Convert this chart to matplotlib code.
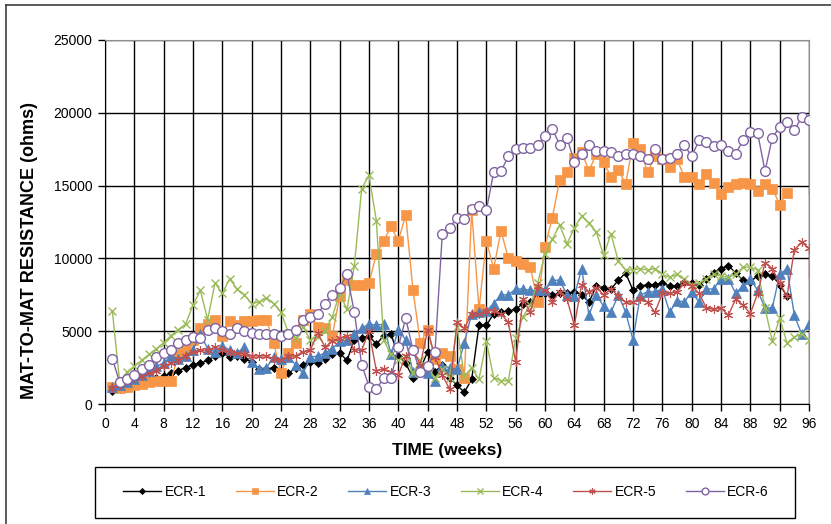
import matplotlib
matplotlib.use("Agg")
import matplotlib.pyplot as plt
from matplotlib.lines import Line2D
from matplotlib.patches import Rectangle
import numpy as np

plt.rcParams['font.family'] = ['Liberation Sans', 'DejaVu Sans']

series_names = ["ECR-1", "ECR-2", "ECR-3", "ECR-4", "ECR-5", "ECR-6"]

ecr1 = [900, 1000, 1100, 1300, 1500, 1600, 1800, 1900, 2100, 2300, 2500, 2700, 2800, 3000, 3300, 3500,
        3200, 3300, 3100, 2900, 2400, 2400, 2500, 2300, 2100, 2500, 2700, 2900, 2800, 3100, 3400, 3500,
        3000, 4400, 4500, 4700, 4100, 4700, 4800, 3300, 2800, 1800, 2400, 3600, 2200, 2700, 1800, 1300,
        800, 1700, 5400, 5400, 6200, 6300, 6400, 6500, 6900, 7000, 7400, 7600, 7500, 7600, 7600, 7700,
        7500, 7000, 8100, 8000, 7900, 8500, 9000, 7800, 8100, 8200, 8200, 8300, 8100, 8100, 8400, 8300,
        8200, 8600, 9000, 9300, 9500, 9000, 8500, 8400, 8800, 8900, 8800, 8200, 7400]

ecr2 = [1200, 1100, 1200, 1300, 1400, 1500, 1600, 1600, 1600, 3400, 3700, 4400, 5200, 5500, 5800, 4700,
        5700, 5400, 5700, 5700, 5800, 5800, 4200, 2100, 3500, 4200, 5800, 6200, 5300, 5200, 4700, 7400,
        8500, 8200, 8200, 8300, 10300, 11200, 12200, 11200, 13000, 7800, 4200, 5100, 3100, 3500, 3300, 2400,
        1800, 13300, 6500, 11200, 9300, 11900, 10000, 9800, 9600, 9400, 7000, 10800, 12800, 15400, 15900, 16900,
        17300, 16000, 17200, 16600, 15600, 16100, 15100, 17900, 17500, 15900, 17000, 16800, 16300, 16800, 15600, 15600,
        15100, 15800, 15200, 14400, 14900, 15100, 15200, 15100, 14600, 15100, 14800, 13700, 14500]

ecr3 = [1200, 1300, 1500, 1700, 2000, 2300, 2600, 2800, 3300, 3100, 3300, 3700, 4800, 3800, 3600, 4000,
        3700, 3500, 3900, 2900, 2400, 2500, 3200, 3100, 3200, 2700, 2100, 3200, 3300, 3500, 3800, 4300,
        4400, 4800, 5200, 5500, 5400, 5500, 3400, 5100, 4400, 2200, 2500, 2100, 1600, 2600, 2500, 2400,
        4200, 6200, 6300, 6400, 6900, 7500, 7500, 7900, 7900, 7800, 7800, 7800, 8500, 8500, 7500, 7400,
        9300, 6100, 7500, 6700, 6300, 7500, 6300, 4400, 7500, 7700, 7700, 7900, 6300, 7100, 7000, 7700,
        7000, 7900, 7900, 8600, 8600, 7600, 8100, 8600, 7800, 6600, 6600, 8900, 9300, 6100, 4800, 5500]

ecr4 = [6400, 1500, 2200, 2600, 3000, 3400, 3800, 4200, 4700, 5100, 5500, 6800, 7800, 5800, 8300, 7600,
        8600, 7900, 7500, 6900, 7000, 7300, 6900, 6300, 4900, 4500, 5300, 4400, 4600, 5000, 6000, 7600,
        6500, 9500, 14800, 15700, 12600, 4400, 3400, 3000, 3200, 2100, 3000, 2500, 1800, 2400, 1800, 5300,
        1900, 2500, 1700, 4300, 1800, 1600, 1600, 4500, 6000, 6800, 8300, 10300, 11300, 12300, 11000, 12100,
        12900, 12400, 11800, 10200, 11700, 9800, 9200, 9200, 9300, 9200, 9300, 8900, 8700, 8900, 8600, 8200,
        8300, 8600, 8900, 8800, 8700, 8900, 9400, 9400, 9200, 6600, 4300, 5900, 4200, 4600, 4800, 4400]

ecr5 = [1100, 1300, 1500, 1800, 1900, 2100, 2300, 2600, 2800, 3000, 3300, 3600, 3700, 3700, 3900, 3700,
        3600, 3500, 3400, 3300, 3300, 3300, 3100, 3000, 3300, 3300, 3600, 3700, 4900, 3900, 4300, 4500,
        4700, 3700, 3700, 5000, 2300, 2400, 2200, 2000, 3300, 3700, 2700, 5100, 3200, 2000, 1000, 5600,
        5200, 6200, 6200, 6400, 6400, 6200, 5600, 2900, 7200, 6300, 8100, 7800, 7000, 7700, 7200, 5400,
        8200, 7700, 8000, 7500, 7900, 7400, 7000, 7000, 7200, 7000, 6300, 7600, 7600, 7700, 8300, 8100,
        7600, 6600, 6500, 6600, 6100, 7200, 6800, 6200, 7600, 9700, 9300, 8300, 7400, 10600, 11100, 10700]

ecr6 = [3100, 1500, 1700, 2000, 2400, 2700, 3200, 3500, 3700, 4200, 4400, 4600, 4500, 5100, 5200, 5000,
        4800, 5200, 5000, 4900, 4800, 4800, 4800, 4700, 4800, 5100, 5800, 6000, 6200, 6900, 7500, 8000,
        8900, 6300, 2700, 1200, 1000, 1800, 1800, 3900, 5900, 3700, 2200, 2600, 3600, 11700, 12100, 12800,
        12700, 13400, 13600, 13300, 15900, 16000, 17000, 17500, 17600, 17600, 17800, 18400, 18900, 17800, 18300, 16600,
        17200, 17800, 17400, 17400, 17300, 17000, 17200, 17200, 17000, 16800, 17500, 16800, 16900, 17200, 17800, 17000,
        18100, 18000, 17700, 17800, 17400, 17200, 18100, 18700, 18600, 16000, 18300, 19000, 19400, 18800, 19700, 19500]

# readings just past week 96 (clipped at the axis edge, as in the original)
tails = {"ECR-4": 3500, "ECR-5": 8700, "ECR-6": 14500}

x_ticks = list(range(0, 97, 4))
y_ticks = [0, 5000, 10000, 15000, 20000, 25000]

data = [ecr1, ecr2, ecr3, ecr4, ecr5, ecr6]
colors = ["#000000", "#F79646", "#4F81BD", "#9BBB59", "#C0504D", "#8064A2"]
markers = ["D", "s", "^", "x", (6, 2, 0), "o"]
msizes = [4.5, 6.5, 6.5, 6, 6.5, 7]

W, H = 831, 524
fig = plt.figure(figsize=(W / 100, H / 100), dpi=100)
ax = fig.add_axes([105 / W, 1 - 404 / H, (809 - 105) / W, (404 - 40) / H])

for name, vals, c, m, ms in zip(series_names, data, colors, markers, msizes):
    weeks = np.arange(1, len(vals) + 1)
    kw = dict(color=c, lw=1.0, marker=m, markersize=ms, label=name, zorder=3)
    if name == "ECR-6":
        kw.update(markerfacecolor="white", markeredgecolor=c, markeredgewidth=1.0)
    elif m == "x":
        kw.update(markeredgewidth=1.0)
    elif name == "ECR-5":
        kw.update(markeredgewidth=0.8)
    else:
        kw.update(markeredgecolor=c, markeredgewidth=0.5)
    ax.plot(weeks, vals, **kw)
    if name in tails:
        ax.plot([weeks[-1], weeks[-1]], [vals[-1], tails[name]], color=c, lw=1.0, zorder=3)

ax.set_xlim(0, 96)
ax.set_ylim(0, 25000)
ax.set_xticks(x_ticks)
ax.set_yticks(y_ticks)
ax.tick_params(axis='both', direction='out', length=5, width=1, labelsize=10, colors='black', pad=4)
ax.grid(True, color='black', lw=1.0, zorder=0)
ax.set_axisbelow(True)
for s in ['top', 'right']:
    ax.spines[s].set_color('#909090')
for s in ['left', 'bottom']:
    ax.spines[s].set_color('black')

fig.text(447 / W, 1 - 450 / H, "TIME (weeks)", ha='center', va='center', fontsize=12.5, fontweight='bold')
fig.text(30 / W, 1 - 250 / H, "MAT-TO-MAT RESISTANCE (ohms)", ha='center', va='center',
         rotation=90, fontsize=13, fontweight='bold')

# legend box
fig.add_artist(Rectangle((95 / W, 1 - 518 / H), 700 / W, 51 / H, transform=fig.transFigure,
                         facecolor='white', edgecolor='black', lw=1.0, zorder=1))
leg = fig.legend(loc='center', ncol=6, bbox_to_anchor=(446 / W, 1 - 492 / H),
                 frameon=False, fontsize=10, handlelength=2.75, handletextpad=0.25,
                 columnspacing=2.1, markerscale=0.7, borderaxespad=0)
leg.set_zorder(2)

# outer chart border (cut by the image edge on the right and bottom)
fig.add_artist(Line2D([6 / W, 6 / W], [0, 1 - 5 / H], color='#404040', lw=1.2, transform=fig.transFigure))
fig.add_artist(Line2D([6 / W, 1], [1 - 5 / H, 1 - 5 / H], color='#404040', lw=1.2, transform=fig.transFigure))

fig.savefig("out.png", dpi=100)
